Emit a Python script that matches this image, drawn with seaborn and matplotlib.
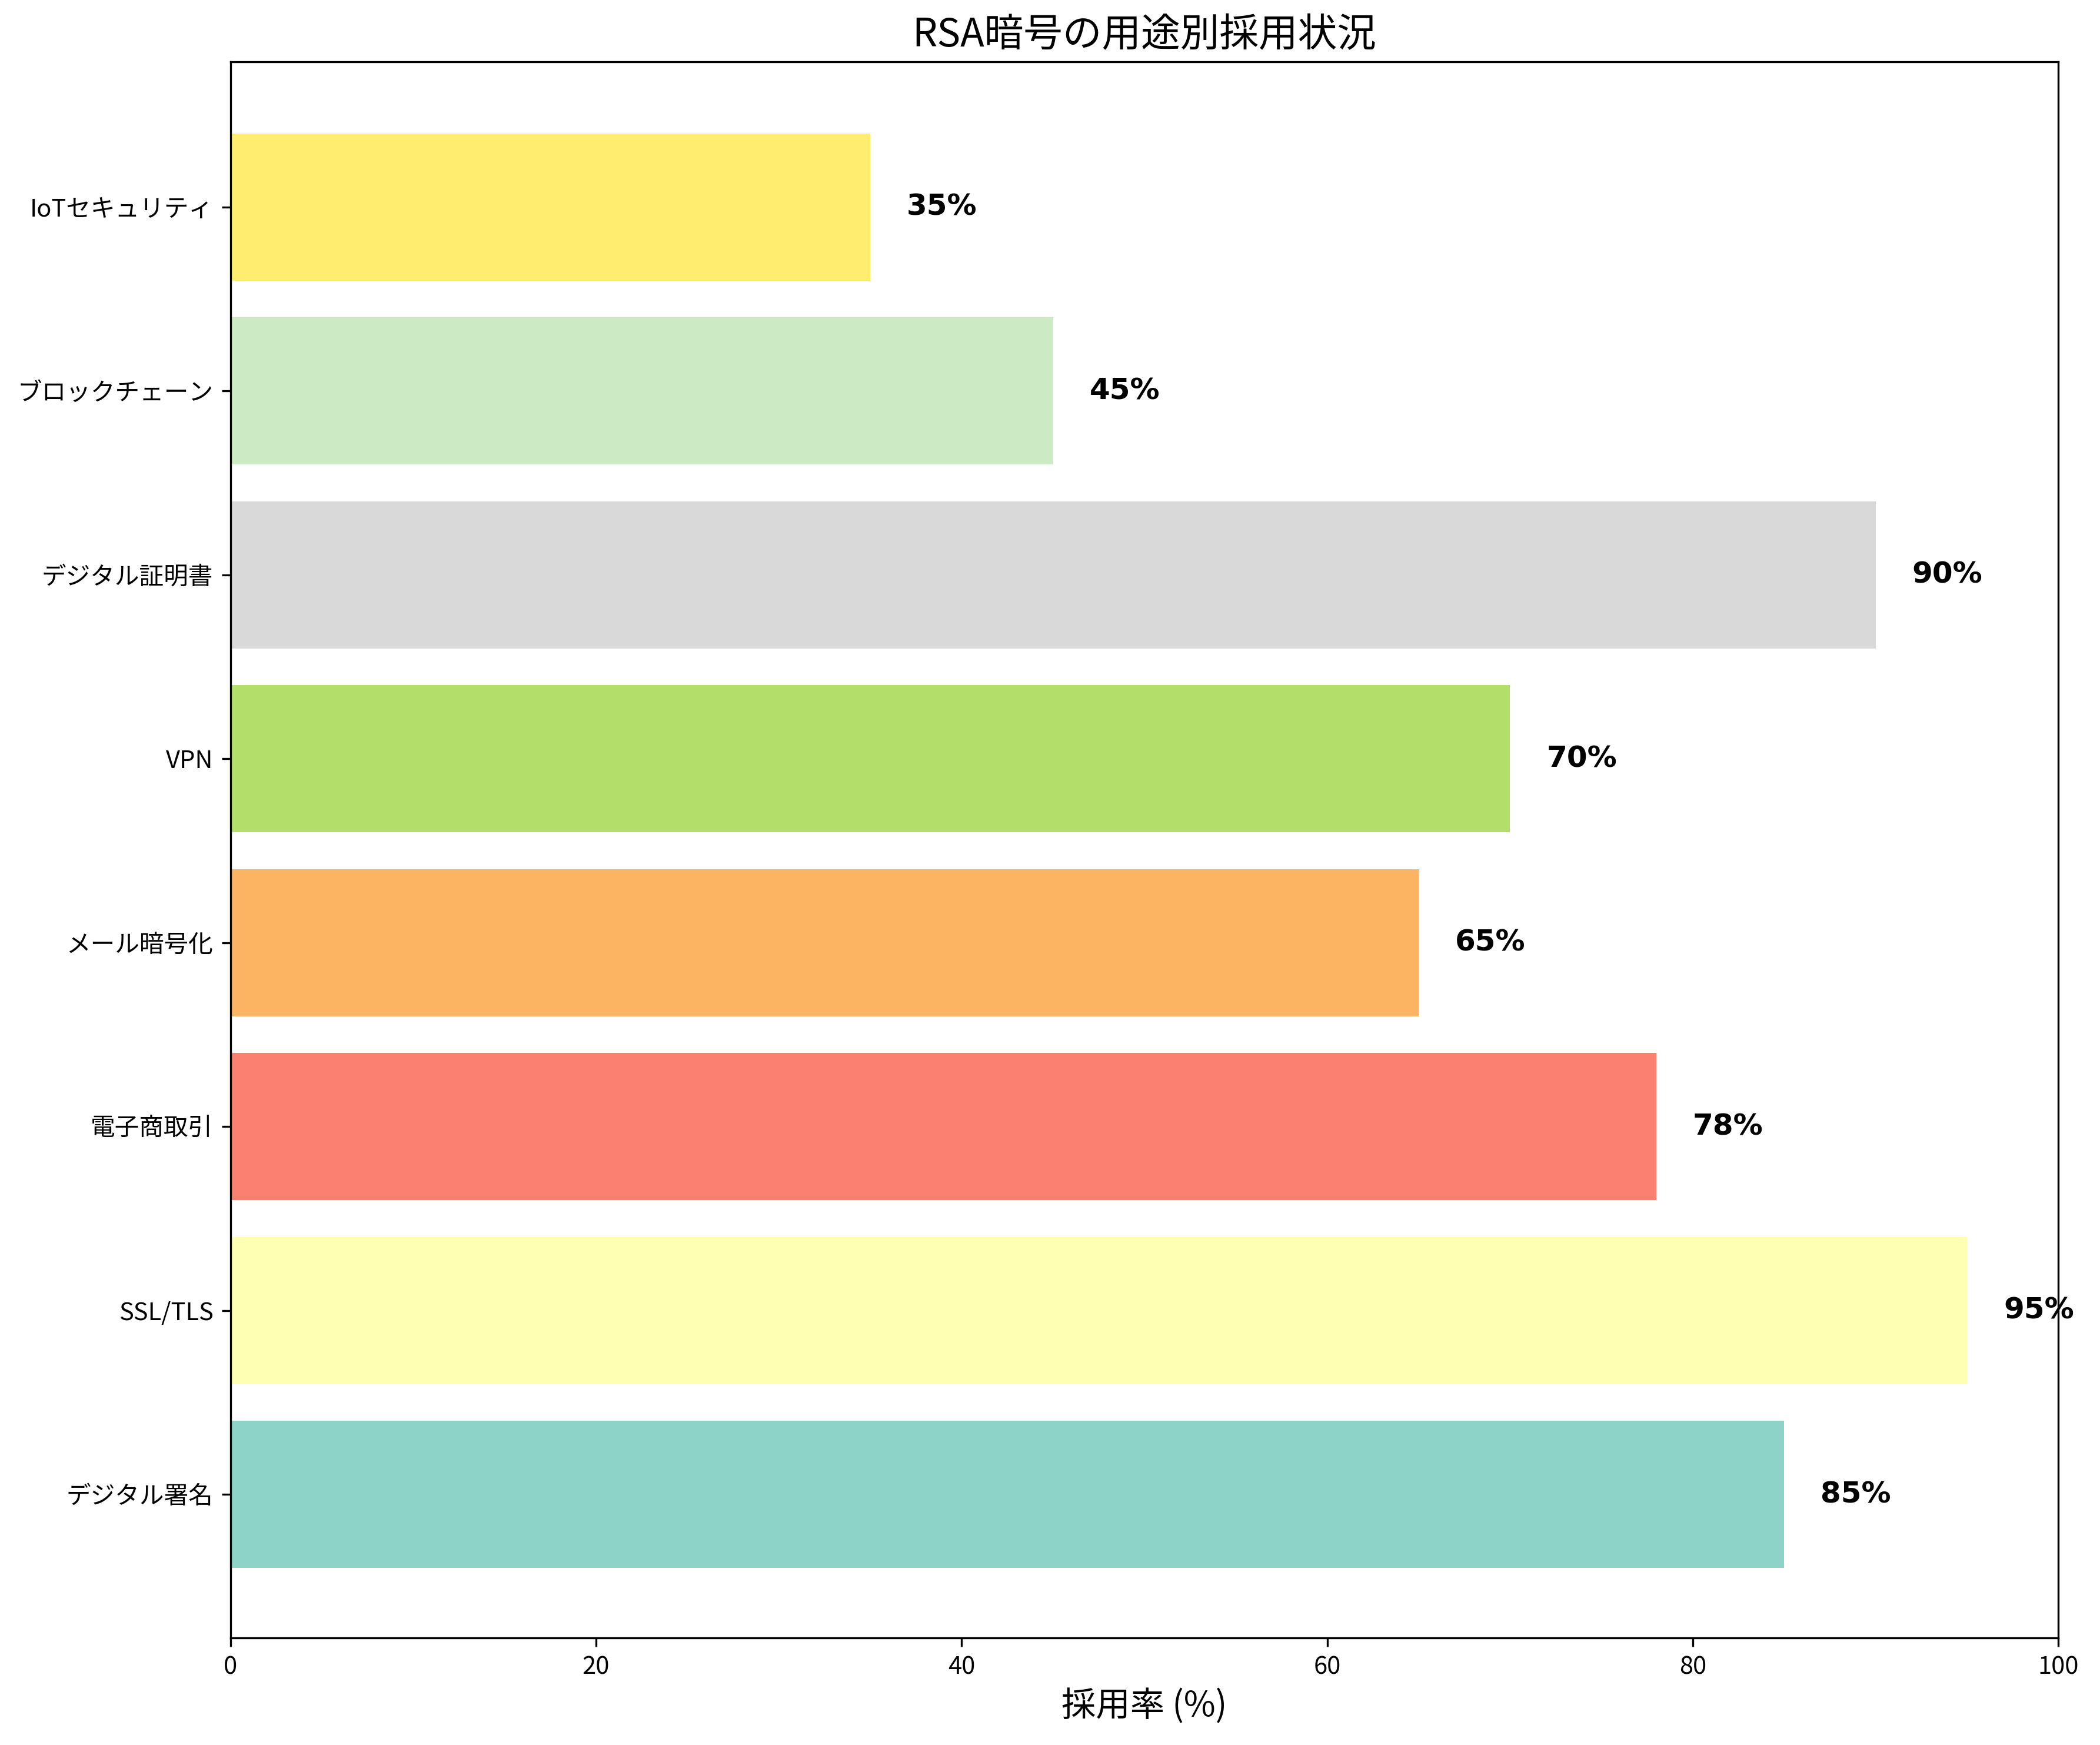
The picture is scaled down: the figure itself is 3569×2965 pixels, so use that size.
import numpy as np
import matplotlib
matplotlib.use('Agg')
import matplotlib.pyplot as plt
import seaborn as sns

# data
applications = ['デジタル署名', 'SSL/TLS', '電子商取引', 'メール暗号化',
                'VPN', 'デジタル証明書', 'ブロックチェーン', 'IoTセキュリティ']
adoption_rates = [85, 95, 78, 65, 70, 90, 45, 35]

plt.rcParams['font.family'] = ['Noto Sans CJK JP', 'DejaVu Sans']

colors = [matplotlib.colors.to_hex(c) for c in plt.cm.Set3(np.linspace(0, 1, len(applications)))]

fig, ax = plt.subplots(figsize=(3569 / 300, 2965 / 300), dpi=300)
sns.barplot(x=adoption_rates, y=applications, hue=applications, palette=colors,
            orient='h', width=0.8, saturation=1, legend=False, ax=ax)
ax.invert_yaxis()
ax.set_ylim(-0.78, len(applications) - 1 + 0.79)
ax.set_xlim(0, 100)

for i, v in enumerate(adoption_rates):
    ax.text(v + 2, i, f'{v}%', va='center', fontsize=12, fontweight='bold',
            family=['DejaVu Sans'])

ax.set_title('RSA暗号の用途別採用状況', fontsize=16)
ax.set_xlabel('採用率 (%)', fontsize=14)
ax.set_ylabel('')
fig.subplots_adjust(left=0.1097, right=0.9802, top=0.9647, bottom=0.0614)
plt.savefig('out.png', dpi=300)
